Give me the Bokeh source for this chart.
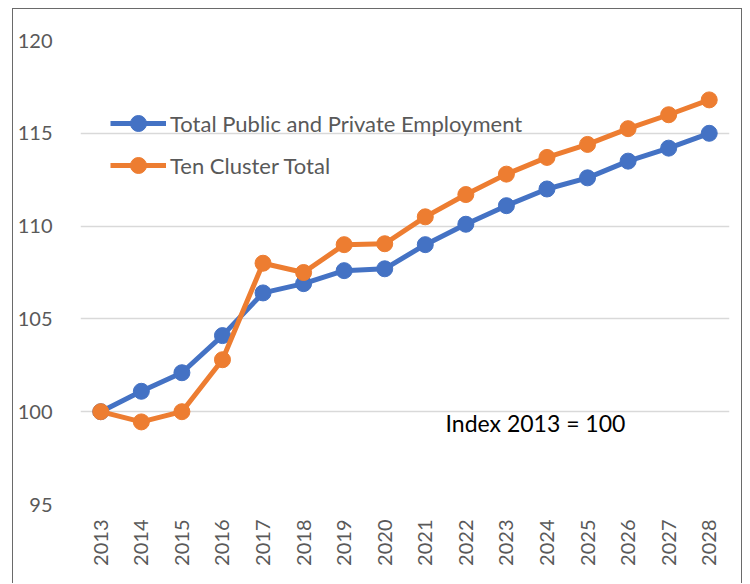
from bokeh.plotting import figure
from bokeh.models import ColumnDataSource, Legend, LegendItem, Label, FactorRange
from bokeh.embed import file_html
from bokeh.resources import INLINE
import math

years = [str(y) for y in range(2013, 2029)]
total_employment = [100.0, 101.1, 102.1, 104.1, 106.4, 106.9, 107.6, 107.7,
                    109.0, 110.1, 111.1, 112.0, 112.6, 113.5, 114.2, 115.0]
ten_cluster = [100.0, 99.45, 100.0, 102.8, 108.0, 107.5, 109.0, 109.05,
               110.5, 111.7, 112.8, 113.7, 114.4, 115.25, 116.0, 116.8]
series_names = ["Total Public and Private Employment", "Ten Cluster Total"]
y_ticks = [95, 100, 105, 110, 115, 120]
note_text = "Index 2013 = 100"

BLUE = "#4472C4"
ORANGE = "#ED7D31"
GREY = "#595959"
FONT = "Lato"

src = ColumnDataSource(dict(year=years, total=total_employment, ten=ten_cluster))

p = figure(x_range=FactorRange(*years), y_range=(95, 120),
           width=730, height=575, output_backend="svg", toolbar_location=None,
           min_border_left=67, min_border_right=14, min_border_top=31, min_border_bottom=80)
p.styles = {"border-left": "1.3px solid #6a6a6a", "border-top": "1.3px solid #6a6a6a",
            "border-right": "1.3px solid #6a6a6a", "margin-left": "12px", "margin-top": "8px"}
p.outline_line_color = None
p.background_fill_color = "white"
p.border_fill_color = "white"

r1l = p.line("year", "total", source=src, line_color=BLUE, line_width=5)
r1c = p.scatter("year", "total", source=src, size=16, fill_color=BLUE, line_color=BLUE)
r2l = p.line("year", "ten", source=src, line_color=ORANGE, line_width=5)
r2c = p.scatter("year", "ten", source=src, size=16, fill_color=ORANGE, line_color=ORANGE)

p.xgrid.grid_line_color = None
p.ygrid.grid_line_color = "#D9D9D9"
p.ygrid.grid_line_width = 1.3
p.yaxis.ticker = y_ticks

for ax in (p.xaxis, p.yaxis):
    ax.axis_line_color = None
    ax.major_tick_line_color = None
    ax.minor_tick_line_color = None
    ax.major_label_text_color = GREY
    ax.major_label_text_font = FONT
    ax.major_label_text_font_size = "20px"

p.yaxis.major_label_standoff = 22
p.xaxis.major_label_orientation = math.pi / 2
p.xaxis.major_label_standoff = 9

legend = Legend(items=[LegendItem(label=series_names[0], renderers=[r1l, r1c]),
                       LegendItem(label=series_names[1], renderers=[r2l, r2c])],
                location=(30, 319), orientation="vertical",
                background_fill_alpha=0, border_line_color=None,
                label_text_font=FONT, label_text_font_size="22px", label_text_color=GREY,
                glyph_width=56, glyph_height=40, label_height=20, spacing=2,
                padding=0, margin=0, label_standoff=4)
p.add_layout(legend)

p.add_layout(Label(x=9.0, y=99.4, text=note_text, text_font=FONT, text_font_size="23px",
                   text_color="#000000", text_baseline="middle", text_align="left"))

open("out.html", "w").write(file_html(p, INLINE))
